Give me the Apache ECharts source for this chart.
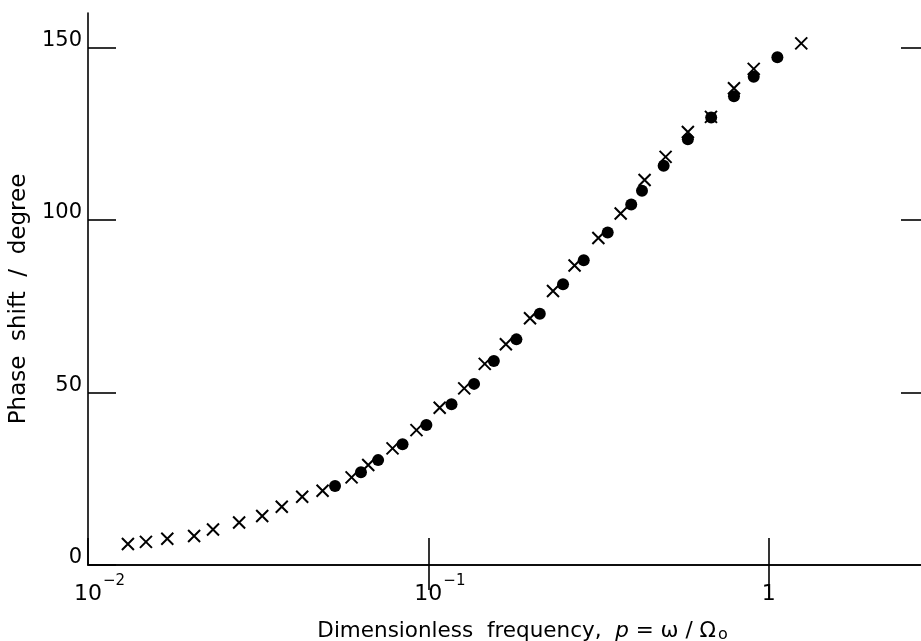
<!DOCTYPE html>
<html>
<head>
<meta charset="utf-8">
<script src="https://cdn.jsdelivr.net/npm/echarts@6/dist/echarts.min.js"></script>
<style>
html,body{margin:0;padding:0;background:#fff;}
#chart{width:921px;height:641px;}
</style>
</head>
<body>
<div id="chart"></div>
<script>
// Crosses (x markers): dimensionless frequency p and phase shift (degree)
const crossP = [0.0131, 0.0148, 0.0171, 0.0205, 0.0233, 0.0278, 0.0325, 0.0371, 0.0426, 0.0489,
  0.0595, 0.0666, 0.0785, 0.0923, 0.108, 0.1275, 0.1465, 0.169, 0.199, 0.2325,
  0.269, 0.316, 0.3675, 0.432, 0.498, 0.579, 0.677, 0.791, 0.904, 1.247];
const crossPhase = [6.1, 6.7, 7.6, 8.4, 10.3, 12.3, 14.2, 16.9, 19.8, 21.5,
  25.4, 29.0, 33.8, 39.1, 45.6, 51.2, 58.3, 64.0, 71.5, 79.4,
  86.8, 94.8, 101.9, 111.6, 118.3, 125.5, 129.9, 138.2, 143.8, 151.2];
// Filled circles
const dotP = [0.0532, 0.0634, 0.0712, 0.084, 0.0987, 0.117, 0.1363, 0.1558, 0.1815, 0.2126,
  0.2488, 0.2862, 0.3366, 0.3947, 0.4245, 0.4915, 0.579, 0.678, 0.791, 0.904, 1.061];
const dotPhase = [22.9, 26.9, 30.4, 35.0, 40.6, 46.6, 52.5, 59.1, 65.4, 72.8,
  81.4, 88.3, 96.4, 104.5, 108.5, 115.7, 123.4, 129.7, 135.9, 141.5, 147.2];
// Tick labels
const xTickValues = [0.01, 0.1, 1];
const xTickBase = ['10', '10', '1'];
const xTickExp = ['\u22122', '\u22121', ''];
const yTickValues = [0, 50, 100, 150];
const yTickLabels = ['0', '50', '100', '150'];

const FONT = 'DejaVu Sans';
const crossData = crossP.map((p, i) => [p, crossPhase[i]]);
const dotData = dotP.map((p, i) => [p, dotPhase[i]]);

function xLabel(v) {
  for (let i = 0; i < xTickValues.length; i++) {
    if (Math.abs(Math.log10(v) - Math.log10(xTickValues[i])) < 1e-6) {
      if (xTickExp[i]) return '{g|' + xTickExp[i] + '}{b|' + xTickBase[i] + '}{s|' + xTickExp[i] + '}';
      return '{b|' + xTickBase[i] + '}';
    }
  }
  return '';
}
function yLabel(v) {
  const i = yTickValues.indexOf(v);
  return i >= 0 ? yTickLabels[i] : '';
}

const lineStyle = { color: '#000', width: 1.6 };
const tickStyle = { color: '#000', width: 1.6 };

const chart = echarts.init(document.getElementById('chart'), null, { renderer: 'canvas' });
chart.setOption({
  animation: false,
  backgroundColor: '#fff',
  grid: { left: 88, top: 13, width: 843, height: 552, containLabel: false, outerBoundsMode: 'none' },
  xAxis: [
    {
      type: 'log', logBase: 10, min: 0.01, max: 3, position: 'bottom',
      axisLine: { show: true, lineStyle: lineStyle },
      axisTick: { show: true, inside: true, length: 27, lineStyle: tickStyle, customValues: xTickValues },
      minorTick: { show: false },
      splitLine: { show: false },
      axisLabel: {
        show: true, margin: 9, customValues: xTickValues,
        formatter: xLabel,
        fontFamily: FONT, color: '#000',
        rich: {
          b: { fontFamily: FONT, fontSize: 22, color: '#000', lineHeight: 40 },
          s: { fontFamily: FONT, fontSize: 15, color: '#000', lineHeight: 17, verticalAlign: 'top', padding: [0, 0, 0, 1] },
          g: { fontFamily: FONT, fontSize: 15, color: 'rgba(0,0,0,0)', lineHeight: 17, verticalAlign: 'top', padding: [0, 1, 0, 0] }
        }
      },
      name: '{t|Dimensionless  frequency,  }{i|p}{t| = \u03c9 / \u03a9}{o|o}',
      nameLocation: 'middle', nameGap: 54,
      nameTextStyle: {
        fontFamily: FONT, color: '#000', fontSize: 21, padding: [0, 0, 0, 26],
        rich: {
          t: { fontFamily: FONT, fontSize: 21.5, color: '#000' },
          i: { fontFamily: FONT, fontSize: 21.5, color: '#000', fontStyle: 'italic' },
          o: { fontFamily: FONT, fontSize: 16, color: '#000', padding: [8, 0, 0, 2] }
        }
      }
    },
    {
      type: 'log', logBase: 10, min: 0.01, max: 3, position: 'top',
      axisLine: { show: true, lineStyle: lineStyle },
      axisTick: { show: true, inside: true, length: 25, lineStyle: tickStyle, customValues: [0.1, 1] },
      splitLine: { show: false },
      axisLabel: { show: false }
    }
  ],
  yAxis: [
    {
      type: 'value', min: 0, max: 160, interval: 50, position: 'left',
      axisLine: { show: true, lineStyle: lineStyle },
      axisTick: { show: true, inside: true, length: 28, lineStyle: tickStyle, customValues: yTickValues },
      splitLine: { show: false },
      axisLabel: {
        show: true, margin: 6, customValues: yTickValues, formatter: yLabel,
        fontFamily: FONT, fontSize: 21, color: '#000', verticalAlign: 'bottom', lineHeight: 14
      },
      name: 'Phase  shift  /  degree',
      nameLocation: 'middle', nameGap: 44,
      nameTextStyle: { fontFamily: FONT, fontSize: 23, color: '#000', padding: [0, 20, 0, 0] }
    },
    {
      type: 'value', min: 0, max: 160, interval: 50, position: 'right',
      axisLine: { show: true, lineStyle: lineStyle },
      axisTick: { show: true, inside: true, length: 30, lineStyle: tickStyle, customValues: [50, 100, 150] },
      splitLine: { show: false },
      axisLabel: { show: false }
    }
  ],
  series: [
    {
      name: 'dots', type: 'scatter', xAxisIndex: 0, yAxisIndex: 0,
      data: dotData, symbol: 'circle', symbolSize: 12,
      itemStyle: { color: '#000', opacity: 1 },
      z: 2
    },
    {
      name: 'crosses', type: 'scatter', xAxisIndex: 0, yAxisIndex: 0,
      data: crossData, symbol: 'path://M0,0L10,10M10,0L0,10', symbolSize: 12,
      itemStyle: { color: 'rgba(0,0,0,0)', borderColor: '#000', borderWidth: 2, opacity: 1 },
      z: 3
    }
  ]
});
</script>
</body>
</html>
